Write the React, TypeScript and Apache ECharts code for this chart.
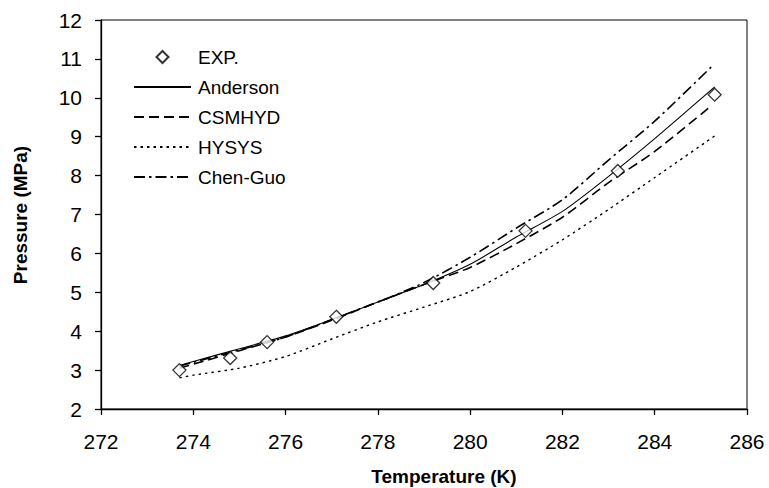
import React, { useEffect, useRef } from "react";
import * as echarts from "echarts";

const expT = [273.7, 274.8, 275.6, 277.1, 279.2, 281.2, 283.2, 285.3];
const expP = [3.0, 3.31, 3.72, 4.37, 5.24, 6.58, 8.12, 10.08];

const andersonT = [273.7, 274, 275, 276, 277, 278, 279, 280, 281, 282, 283, 284, 285.3];
const andersonP = [3.12, 3.22, 3.55, 3.88, 4.3, 4.75, 5.2, 5.72, 6.42, 7.08, 7.98, 8.95, 10.28];

const csmhydT = [273.7, 274, 275, 276, 277, 278, 279, 280, 281, 282, 283, 284, 285.2];
const csmhydP = [3.05, 3.15, 3.5, 3.85, 4.28, 4.75, 5.2, 5.64, 6.25, 6.93, 7.82, 8.62, 9.77];

const hysysT = [273.7, 274, 275, 276, 277, 278, 279, 280, 281, 282, 283, 284, 285.3];
const hysysP = [2.8, 2.87, 3.05, 3.35, 3.8, 4.24, 4.62, 5.02, 5.65, 6.35, 7.13, 7.95, 9.02];

const chenGuoT = [273.7, 274, 275, 276, 277, 278, 279, 280, 281, 282, 283, 284, 285.25];
const chenGuoP = [3.1, 3.2, 3.52, 3.85, 4.3, 4.75, 5.25, 5.9, 6.65, 7.38, 8.4, 9.4, 10.82];

const legendNames = ["EXP.", "Anderson", "CSMHYD", "HYSYS", "Chen-Guo"];

const pairs = (xs: number[], ys: number[]) => xs.map((x, i) => [x, ys[i]]);

const FONT = "'Liberation Sans', Arial, sans-serif";

export default function App() {
  const ref = useRef<HTMLDivElement>(null);
  useEffect(() => {
    if (!ref.current) return;
    const chart = echarts.init(ref.current, null, { renderer: "svg" });
    const lineSeries = (name: string, data: number[][], type: any, width: number) => ({
      name,
      type: "line",
      data,
      symbol: "none",
      showSymbol: false,
      smooth: 0.25,
      lineStyle: { color: "#000", width, type },
      itemStyle: { color: "rgba(0,0,0,0)", borderColor: "rgba(0,0,0,0)", borderWidth: 0 },
      z: 2,
    });
    chart.setOption({
      animation: false,
      backgroundColor: "#fff",
      textStyle: { fontFamily: FONT },
      grid: {
        left: 101,
        top: 20,
        right: 22,
        bottom: 79,
        show: true,
        borderColor: "#000",
        borderWidth: 1,
        backgroundColor: "transparent",
      },
      legend: {
        orient: "vertical",
        left: 133,
        top: 47,
        padding: 0,
        itemWidth: 57,
        itemHeight: 12,
        itemGap: 10,
        textStyle: { fontSize: 19, color: "#000", fontFamily: FONT, lineHeight: 20, padding: [0, 0, 0, 2] },
        data: legendNames.map((n, i) =>
          i === 0 ? { name: n, icon: "path://M0,-1L1,0L0,1L-1,0Z" } : { name: n }
        ),
      },
      xAxis: {
        type: "value",
        min: 272,
        max: 286,
        interval: 2,
        splitLine: { show: false },
        axisLine: { show: true, lineStyle: { color: "#000", width: 1.3 } },
        axisTick: { show: true, length: 6, lineStyle: { color: "#000", width: 1.3 } },
        axisLabel: { fontSize: 21, color: "#000", fontFamily: FONT, margin: 22 },
      },
      yAxis: {
        type: "value",
        min: 2,
        max: 12,
        interval: 1,
        splitLine: { show: false },
        axisLine: { show: true, lineStyle: { color: "#000", width: 1.3 } },
        axisTick: { show: true, length: 6, lineStyle: { color: "#000", width: 1.3 } },
        axisLabel: { fontSize: 21, color: "#000", fontFamily: FONT, margin: 19 },
      },
      graphic: [
        {
          type: "text",
          x: 444,
          y: 476,
          style: {
            text: "Temperature (K)",
            fontSize: 19,
            fontWeight: "bold",
            fontFamily: FONT,
            fill: "#000",
            align: "center",
            verticalAlign: "middle",
          },
        },
        {
          type: "text",
          x: 20,
          y: 215,
          rotation: Math.PI / 2,
          style: {
            text: "Pressure (MPa)",
            fontSize: 19,
            fontWeight: "bold",
            fontFamily: FONT,
            fill: "#000",
            align: "center",
            verticalAlign: "middle",
          },
        },
      ],
      series: [
        {
          name: "EXP.",
          type: "scatter",
          data: pairs(expT, expP),
          symbol: "diamond",
          symbolSize: 13,
          itemStyle: { color: "#fff", borderColor: "#000", borderWidth: 1.3 },
          z: 5,
        },
        lineSeries("Anderson", pairs(andersonT, andersonP), "solid", 1.1),
        lineSeries("CSMHYD", pairs(csmhydT, csmhydP), [10, 5], 1.6),
        lineSeries("HYSYS", pairs(hysysT, hysysP), [2.5, 4], 1.4),
        lineSeries("Chen-Guo", pairs(chenGuoT, chenGuoP), [11, 4, 2.5, 4], 1.6),
      ],
    });
    return () => chart.dispose();
  }, []);
  return (
    <div
      ref={ref}
      style={{ position: "fixed", left: 0, top: 0, width: 769, height: 488, background: "#fff" }}
    />
  );
}
